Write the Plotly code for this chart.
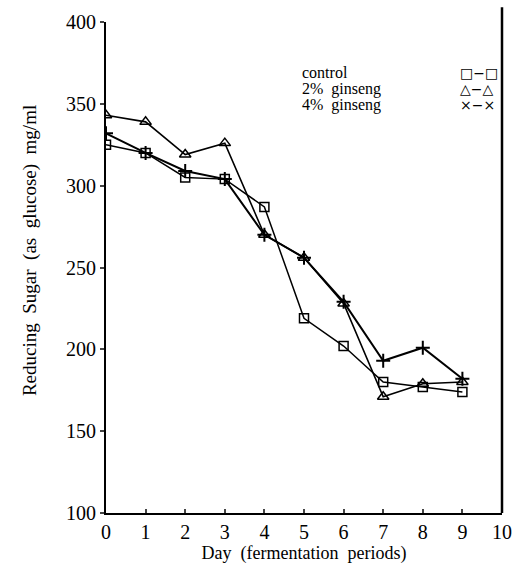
import plotly.graph_objects as go

days = [0, 1, 2, 3, 4, 5, 6, 7, 8, 9]
control = [325, 320, 305, 304, 287, 219, 202, 180, 177, 174]
ginseng2 = [343, 339, 319, 326, 270, 256, 228, 171, 179, 180]
ginseng4 = [332, 320, 309, 304, 270, 256, 229, 193, 201, 182]
x_ticks = [0, 1, 2, 3, 4, 5, 6, 7, 8, 9, 10]
y_ticks = [100, 150, 200, 250, 300, 350, 400]
legend_names = ["control", "2%  ginseng", "4%  ginseng"]
legend_syms = ["□−□", "△−△", "×−×"]
y_title = "Reducing  Sugar  (as  glucose)  mg/ml"
x_title = "Day  (fermentation  periods)"

FONT = "Liberation Serif"
fig = go.Figure()
fig.add_trace(go.Scatter(x=days, y=control, mode="lines+markers",
                         line=dict(color="black", width=1.5),
                         marker=dict(symbol="square-open", size=9, color="black", line=dict(width=1.5))))
fig.add_trace(go.Scatter(x=days, y=ginseng2, mode="lines+markers",
                         line=dict(color="black", width=1.6),
                         marker=dict(symbol="triangle-up-open", size=10, color="black", line=dict(width=1.5))))
fig.add_trace(go.Scatter(x=days, y=ginseng4, mode="lines+markers",
                         line=dict(color="black", width=2),
                         marker=dict(symbol="cross-thin-open", size=10, color="black", line=dict(width=2))))

for i, (n, s) in enumerate(zip(legend_names, legend_syms)):
    yp = [0.897, 0.864, 0.831][i]
    fig.add_annotation(x=0.49, y=yp, xref="paper", yref="paper", text=n, showarrow=False,
                       xanchor="left", yanchor="middle", font=dict(family=FONT, size=16, color="black"))
    fig.add_annotation(x=0.89, y=yp, xref="paper", yref="paper", text=s, showarrow=False,
                       xanchor="left", yanchor="middle", font=dict(family="DejaVu Sans", size=14, color="black"))

fig.add_annotation(x=-0.19, y=0.535, xref="paper", yref="paper", text=y_title, showarrow=False,
                   textangle=-90, xanchor="center", yanchor="middle",
                   font=dict(family=FONT, size=19, color="black"))

fig.update_layout(
    width=523, height=569,
    margin=dict(l=106, r=11, t=16, b=56),
    paper_bgcolor="white", plot_bgcolor="white",
    showlegend=False,
    font=dict(family=FONT, size=18, color="black"),
    xaxis=dict(range=[0, 10], tickvals=x_ticks, ticks="inside", ticklen=4, tickwidth=1.5,
               showline=True, linecolor="black", linewidth=2, showgrid=False, zeroline=False,
               mirror=False, title=dict(text=x_title, font=dict(family=FONT, size=18), standoff=2),
               tickfont=dict(family=FONT, size=20)),
    yaxis=dict(range=[100, 400], tickvals=y_ticks, ticks="outside", ticklen=4, tickwidth=1.5,
               showline=True, linecolor="black", linewidth=2, showgrid=False, zeroline=False,
               tickfont=dict(family=FONT, size=20)),
)
fig.add_shape(type="line", xref="paper", yref="paper", x0=1, x1=1, y0=0, y1=1.03,
              line=dict(color="black", width=2.5))
fig.write_html("out.html")
